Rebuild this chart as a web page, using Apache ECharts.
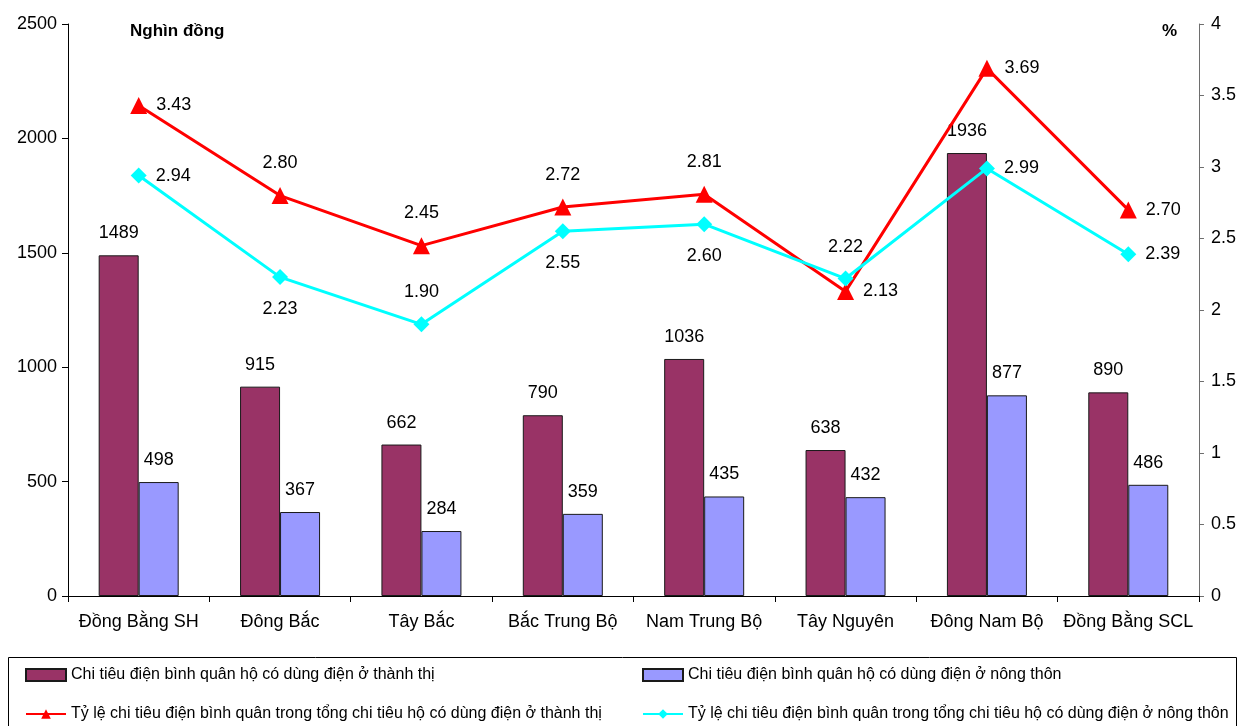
<!DOCTYPE html>
<html>
<head>
<meta charset="utf-8">
<style>
  html, body { margin: 0; padding: 0; background: #fff; }
  #chart { width: 1239px; height: 726px; }
</style>
<script src="https://cdn.jsdelivr.net/npm/echarts@6/dist/echarts.min.js"></script>
</head>
<body>
<div id="chart"></div>
<script>
// Regions
const regions = ['Đồng Bằng SH', 'Đông Bắc', 'Tây Bắc', 'Bắc Trung Bộ', 'Nam Trung Bộ', 'Tây Nguyên', 'Đông Nam Bộ', 'Đồng Bằng SCL'];

// Average electricity spending (thousand VND)
const urbanSpend = [1489, 915, 662, 790, 1036, 638, 1936, 890];
const ruralSpend = [498, 367, 284, 359, 435, 432, 877, 486];

// Share of electricity in total household spending (%)
const urbanShare = [3.43, 2.80, 2.45, 2.72, 2.81, 2.13, 3.69, 2.70];
const ruralShare = [2.94, 2.23, 1.90, 2.55, 2.60, 2.22, 2.99, 2.39];

// Series names
const seriesNames = [
  'Chi tiêu điện bình quân hộ có dùng điện ở thành thị',
  'Chi tiêu điện bình quân hộ có dùng điện ở nông thôn',
  'Tỷ lệ chi tiêu điện bình quân trong tổng chi tiêu hộ có dùng điện ở thành thị',
  'Tỷ lệ chi tiêu điện bình quân trong tổng chi tiêu hộ có dùng điện ở nông thôn'
];

// Where each line label sits relative to its marker
const urbanLabelSide = ['right', 'top', 'top', 'top', 'top', 'right', 'right', 'right'];
const ruralLabelSide = ['right', 'bottom', 'top', 'bottom', 'bottom', 'top', 'right', 'right'];

const FONT = '"Liberation Sans", Arial, sans-serif';

function lineData(values, sides) {
  return values.map((v, i) => ({
    value: v,
    label: { position: sides[i], distance: sides[i] === 'right' ? 9 : 15 }
  }));
}

const chart = echarts.init(document.getElementById('chart'), null, { renderer: 'canvas' });

const legendBase = {
  orient: 'horizontal',
  padding: 0,
  itemWidth: 40,
  itemHeight: 12,
  textStyle: { fontFamily: FONT, fontSize: 16, color: '#000' },
  selectedMode: false
};

chart.setOption({
  animation: false,
  backgroundColor: '#fff',
  grid: { left: 68, right: 40, top: 24, bottom: 130, containLabel: false },
  legend: [
    Object.assign({}, legendBase, { left: 25, top: 667, data: [{ name: seriesNames[0], icon: 'rect' }] }),
    Object.assign({}, legendBase, { left: 642, top: 667, data: [{ name: seriesNames[1], icon: 'rect' }] }),
    Object.assign({}, legendBase, { left: 25, top: 706, data: [seriesNames[2]] }),
    Object.assign({}, legendBase, { left: 642, top: 706, data: [seriesNames[3]] })
  ],
  graphic: [
    { type: 'rect', shape: { x: 8.5, y: 657.5, width: 1228, height: 80 },
      style: { fill: 'none', stroke: '#000', lineWidth: 1 }, silent: true },
    { type: 'text', left: 130, top: 23,
      style: { text: 'Nghìn đồng', font: 'bold 17px ' + FONT, fill: '#000' } },
    { type: 'text', left: 1162, top: 23,
      style: { text: '%', font: 'bold 17px ' + FONT, fill: '#000' } }
  ],
  xAxis: {
    type: 'category',
    data: regions,
    boundaryGap: true,
    axisLine: { lineStyle: { color: '#000', width: 1 } },
    axisTick: { show: true, alignWithLabel: false, length: 6, lineStyle: { color: '#000' } },
    axisLabel: { fontFamily: FONT, fontSize: 18, color: '#000', margin: 17, interval: 0 }
  },
  yAxis: [
    {
      type: 'value', min: 0, max: 2500, interval: 500,
      axisLine: { show: true, lineStyle: { color: '#000', width: 1 } },
      axisTick: { show: true, length: 6, lineStyle: { color: '#000' } },
      axisLabel: { fontFamily: FONT, fontSize: 18, color: '#000', margin: 11,
                   formatter: v => String(v) },
      splitLine: { show: false }
    },
    {
      type: 'value', min: 0, max: 4, interval: 0.5, position: 'right',
      axisLine: { show: true, lineStyle: { color: '#6e6e6e', width: 1 } },
      axisTick: { show: true, length: 5, lineStyle: { color: '#6e6e6e' } },
      axisLabel: { fontFamily: FONT, fontSize: 18, color: '#000', margin: 12 },
      splitLine: { show: false }
    }
  ],
  series: [
    {
      name: seriesNames[0], type: 'bar', yAxisIndex: 0, data: urbanSpend,
      barWidth: 40, barGap: '0%',
      itemStyle: { color: '#993366', borderColor: '#1a1a1a', borderWidth: 1 },
      label: { show: true, position: 'top', distance: 13, fontFamily: FONT, fontSize: 18, color: '#000' }
    },
    {
      name: seriesNames[1], type: 'bar', yAxisIndex: 0, data: ruralSpend,
      barWidth: 40, barGap: '0%',
      itemStyle: { color: '#9999ff', borderColor: '#1a1a1a', borderWidth: 1 },
      label: { show: true, position: 'top', distance: 13, fontFamily: FONT, fontSize: 18, color: '#000' }
    },
    {
      name: seriesNames[2], type: 'line', yAxisIndex: 1,
      data: lineData(urbanShare, urbanLabelSide),
      symbol: 'triangle', symbolSize: 17, z: 5,
      lineStyle: { color: '#ff0000', width: 3 },
      itemStyle: { color: '#ff0000' },
      label: { show: true, fontFamily: FONT, fontSize: 18, color: '#000',
               formatter: p => p.value.toFixed(2) }
    },
    {
      name: seriesNames[3], type: 'line', yAxisIndex: 1,
      data: lineData(ruralShare, ruralLabelSide),
      symbol: 'diamond', symbolSize: 16, z: 5,
      lineStyle: { color: '#00ffff', width: 3 },
      itemStyle: { color: '#00ffff' },
      label: { show: true, fontFamily: FONT, fontSize: 18, color: '#000',
               formatter: p => p.value.toFixed(2) }
    }
  ]
});
</script>
</body>
</html>
